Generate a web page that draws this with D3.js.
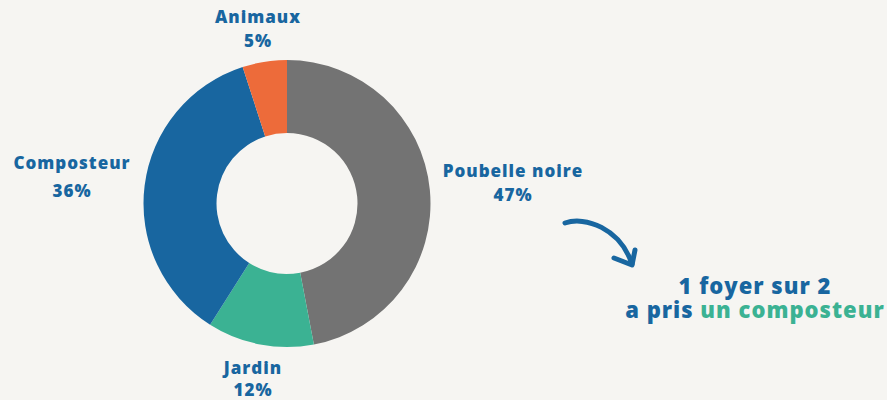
<!DOCTYPE html>
<html><head><meta charset="utf-8">
<script src="https://cdn.jsdelivr.net/npm/d3@7"></script>
<style>
html,body{margin:0;padding:0;background:#f6f5f2;}
svg{display:block;}
text{font-family:"Open Sans",sans-serif;font-weight:800;}
</style></head>
<body><svg id="c" width="887" height="400"></svg>
<script>
const categories = ["Poubelle noire", "Jardin", "Composteur", "Animaux"];
const values = [47, 12, 36, 5];
const valueLabels = ["47%", "12%", "36%", "5%"];
const colors = ["#737373", "#3bb293", "#1866a0", "#ed6b3a"];

const svg = d3.select("#c");
svg.append("rect").attr("width", 887).attr("height", 400).attr("fill", "#f6f5f2");
const cx = 287, cy = 203.5, rOut = 143.5, rIn = 70.5;
const g = svg.append("g").attr("transform", `translate(${cx},${cy})`);
const pie = d3.pie().sort(null).value(d => d)(values);
const arc = d3.arc().innerRadius(rIn).outerRadius(rOut);
g.selectAll("path").data(pie).join("path").attr("d", arc).attr("fill", (d, i) => colors[i]);

// label positions (absolute)
const labelPos = [
  {x: 513, y1: 177, y2: 201},
  {x: 253, y1: 374, y2: 396},
  {x: 72, y1: 169, y2: 197},
  {x: 258, y1: 23, y2: 47}
];
const lab = svg.append("g").attr("fill", "#1866a0").attr("font-size", 17).attr("text-anchor", "middle").style("letter-spacing", "1px");
categories.forEach((c, i) => {
  const tx = lab.append("text").attr("x", labelPos[i].x).attr("y", labelPos[i].y1);
  tx.append("tspan").attr("x", labelPos[i].x).text(c);
  tx.append("tspan").attr("x", labelPos[i].x).attr("dy", labelPos[i].y2 - labelPos[i].y1).text(valueLabels[i]);
});

// arrow
svg.append("path")
  .attr("d", "M565,223 C585,216 620,228 632,264")
  .attr("fill", "none").attr("stroke", "#1866a0").attr("stroke-width", 5).attr("stroke-linecap", "round");
svg.append("path")
  .attr("d", "M614,258 L632,265 L635,250")
  .attr("fill", "none").attr("stroke", "#1866a0").attr("stroke-width", 5).attr("stroke-linecap", "round").attr("stroke-linejoin", "round");

const t = svg.append("text").attr("font-size", 22).attr("text-anchor", "middle").style("letter-spacing", "1px").attr("y", 294);
t.append("tspan").attr("x", 755).attr("fill", "#1866a0").text("1 foyer sur 2");
t.append("tspan").attr("x", 755).attr("dy", 24).attr("fill", "#1866a0").text("a pris ");
t.append("tspan").attr("fill", "#3bb293").text("un composteur");
</script></body></html>
